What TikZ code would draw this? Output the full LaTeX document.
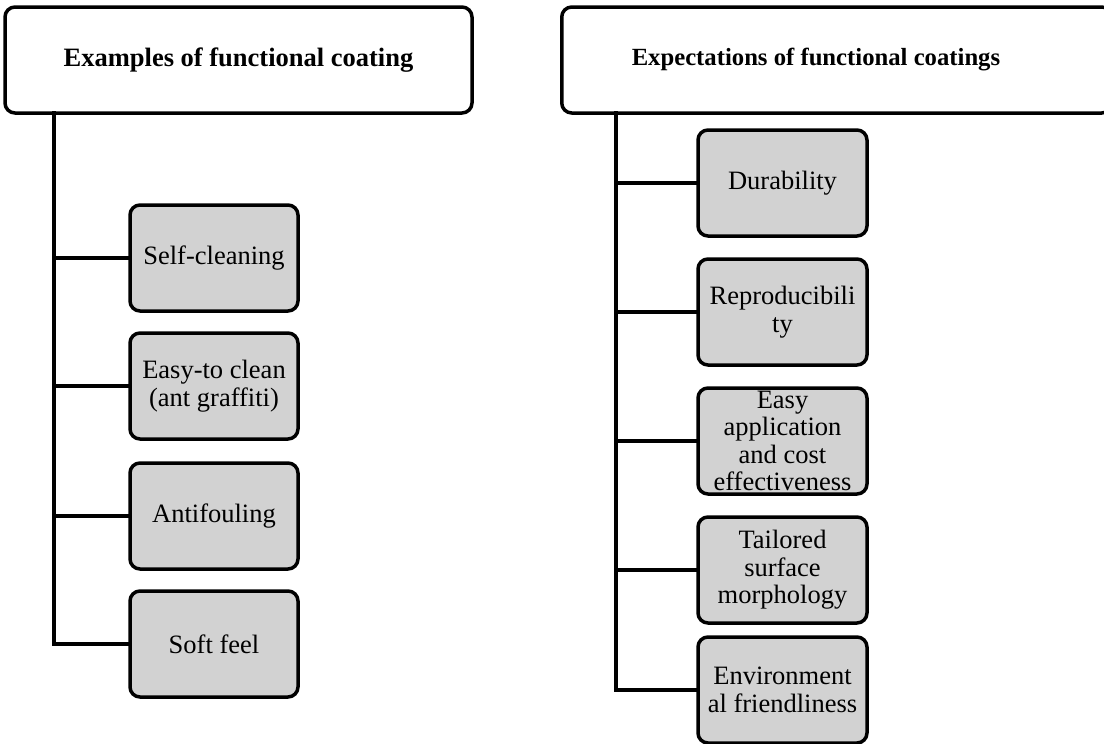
\documentclass[tikz,border=0pt]{standalone}
\usepackage{fontspec}
\setmainfont{Liberation Serif}
\definecolor{boxgray}{RGB}{210,210,210}

\begin{document}
\begin{tikzpicture}[x=1pt, y=-1pt, line cap=round, line join=round,
    headbox/.style={draw, line width=3.5pt, rounded corners=10pt, minimum height=106pt,
        inner sep=0pt, font=\fontsize{26.5}{28}\selectfont\bfseries},
    itembox/.style={draw, fill=boxgray, line width=3.5pt, rounded corners=10pt,
        minimum width=168pt, minimum height=106pt, inner sep=0pt, align=center,
        font=\fontsize{26.5}{27.5}\selectfont},
    conn/.style={line width=3.5pt, line cap=rect, line join=miter}]
    \useasboundingbox (0,0) rectangle (1104,744);

    % --- 1. Headers ---
    \node[headbox, minimum width=467pt] (hdL) at (238.5,60) {Examples of functional coating};
    \node[headbox, anchor=west, text width=550pt, align=flush left,
        font=\fontsize{24.7}{28}\selectfont\bfseries] (hdR) at (560,60)
        {\hspace*{70pt}Expectations of functional coatings};

    % --- 2. Examples (left column) ---
    \node[itembox] (ex1) at (214,258) {Self-cleaning};
    \node[itembox] (ex2) at (214,386) {Easy-to clean\\(ant graffiti)};
    \node[itembox] (ex3) at (214,516) {Antifouling};
    \node[itembox] (ex4) at (214,644) {Soft feel};

    % --- 3. Expectations (right column) ---
    \node[itembox, minimum width=169pt] (ep1) at (782.5,183) {Durability};
    \node[itembox, minimum width=169pt] (ep2) at (782.5,312) {Reproducibili\\ty};
    \node[itembox, minimum width=169pt] (ep3) at (782.5,441) {Easy\\application\\and cost\\effectiveness};
    \node[itembox, minimum width=169pt] (ep4) at (782.5,570) {Tailored\\surface\\morphology};
    \node[itembox, minimum width=169pt] (ep5) at (782.5,690) {Environment\\al friendliness};

    % --- 4. Trunks and branches ---
    \coordinate (trunkL) at (54,113);
    \coordinate (trunkR) at (616,113);
    \draw[conn] (trunkL) |- (ex4.west);
    \foreach \n in {ex1,ex2,ex3} \draw[conn] (trunkL |- \n.west) -- (\n.west);
    \draw[conn] (trunkR) |- (ep5.west);
    \foreach \n in {ep1,ep2,ep3,ep4} \draw[conn] (trunkR |- \n.west) -- (\n.west);
\end{tikzpicture}
\end{document}
